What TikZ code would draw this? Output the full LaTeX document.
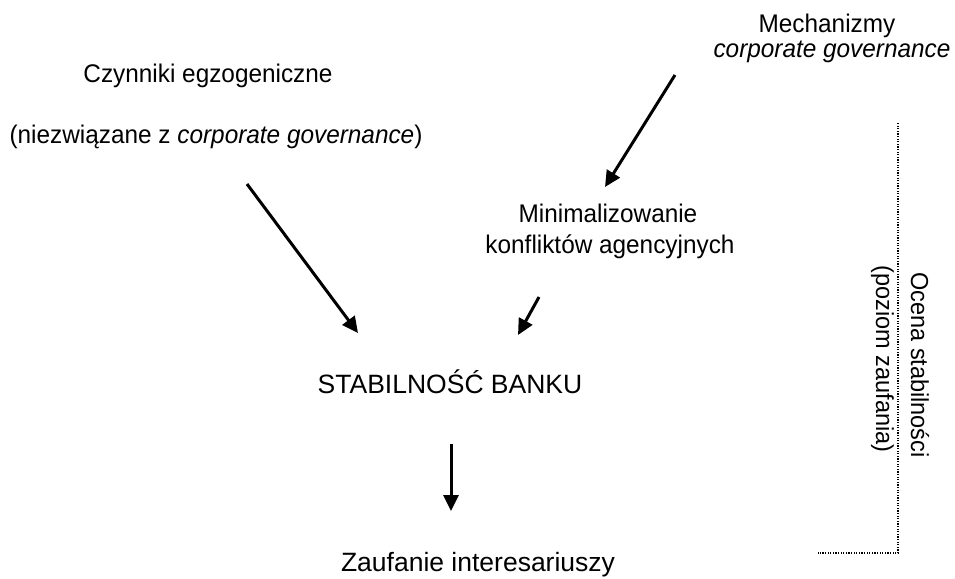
\documentclass[tikz,border=0pt]{standalone}
\usepackage{fontspec}
\setmainfont{Liberation Sans}
\usetikzlibrary{arrows.meta}
% slightly condensed lettering for the captions
\newcommand{\condensed}[1]{\scalebox{0.955}[1]{#1}}
\begin{document}
\begin{tikzpicture}[x=1pt,y=-1pt,
  txt/.style={inner sep=0pt,anchor=base,font=\fontsize{25.5}{30}\selectfont},
  bigtxt/.style={inner sep=0pt,anchor=base,font=\fontsize{26.5}{31}\selectfont},
  sidetxt/.style={inner sep=0pt,anchor=base,rotate=-90,font=\fontsize{24.6}{29}\selectfont},
  flow/.style={line width=3pt,-{Triangle[length=16pt,width=15pt]}},
  bracket/.style={line width=1.3pt,dash pattern=on 1.2pt off 1.4pt}]
\useasboundingbox (0,0) rectangle (955,578);

% text blocks
\node[txt] (egz)  at (208,82)  {\condensed{Czynniki egzogeniczne}};
\node[txt] (egz2) at (216,143) {\condensed{(niezwiązane z \textit{corporate governance})}};
\node[txt] (mech)  at (827,33) {\condensed{Mechanizmy}};
\node[txt] (mech2) at (832,58) {\condensed{\textit{corporate governance}}};
\node[txt] (min)  at (608,222) {\condensed{Minimalizowanie}};
\node[txt] (min2) at (610,253) {\condensed{konfliktów agencyjnych}};
\node[bigtxt] (stab) at (450,393) {STABILNOŚĆ BANKU};
\node[bigtxt] (zauf) at (478,571) {Zaufanie interesariuszy};

% side label
\node[sidetxt] (ocena) at (911,365) {\condensed{Ocena stabilności}};
\node[sidetxt] (pozio) at (876,359) {\condensed{(poziom zaufania)}};

% arrow end points
\coordinate (a1s) at (247,184);
\coordinate (a1e) at (358,333);
\coordinate (a2s) at (675,75);
\coordinate (a2e) at (605,187);
\coordinate (a3s) at (539,297);
\coordinate (a3e) at (518,335);
\coordinate (a4s) at (451,444);
\coordinate (a4e) at (451,511);

\draw[flow] (a1s) -- (a1e);
\draw[flow] (a2s) -- (a2e);
\draw[flow] (a3s) -- (a3e);
\draw[flow] (a4s) -- (a4e);

% dotted bracket
\coordinate (b1) at (898,123);
\coordinate (b2) at (898,553);
\coordinate (b3) at (818,553);
\draw[bracket] (b1) -- (b2) -- (b3);
\end{tikzpicture}
\end{document}
